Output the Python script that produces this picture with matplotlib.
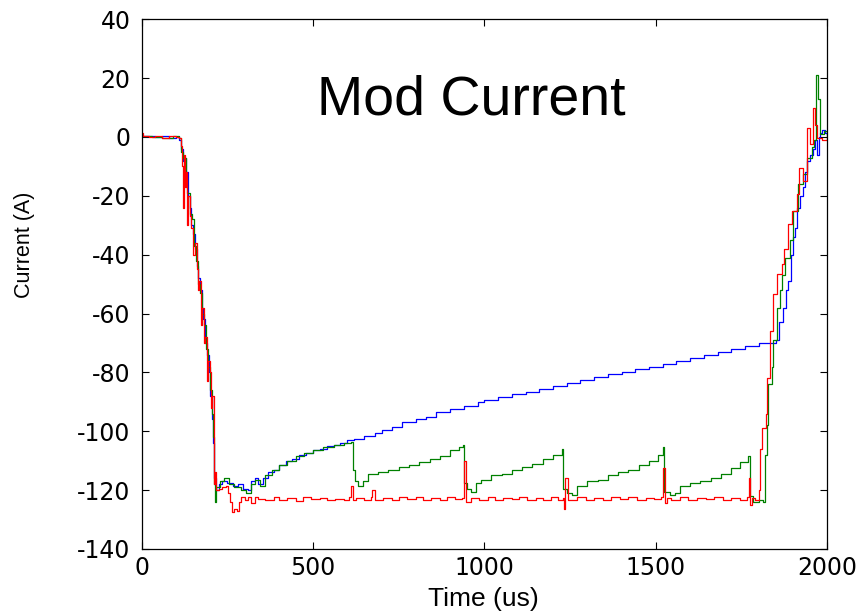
import numpy as np
import matplotlib
matplotlib.use("Agg")
import matplotlib.pyplot as plt

# (time in us, current in A)
blue_trace = [
    (0, 0.5), (20, 0.2), (40, 0.0), (60, 0.3), (80, -0.2), (100, 0.0), (110, -1.0),
    (115, -4), (120, -8), (125, -7), (130, -12), (135, -20), (140, -24), (145, -30),
    (150, -33), (155, -38), (160, -44), (165, -48), (170, -52), (175, -58), (180, -62),
    (185, -70), (190, -74), (195, -80), (200, -88), (205, -96), (208, -104), (212, -116),
    (218, -120), (225, -118), (235, -117), (250, -117.5), (265, -118.5), (280, -118),
    (295, -119.5), (310, -120), (320, -117), (330, -116), (340, -118), (355, -116),
    (370, -114), (385, -113), (400, -111.5), (420, -110), (440, -109.5), (460, -108),
    (480, -107.5), (500, -106.5), (520, -106), (540, -105), (560, -104.5), (580, -104),
    (600, -103), (620, -102.5), (650, -101.5), (680, -100.5), (700, -99.5), (730, -98.5),
    (760, -97), (800, -96), (830, -95), (860, -93.5), (900, -92.5), (940, -91.5),
    (980, -90), (1000, -89.5), (1040, -88.5), (1080, -87.5), (1120, -86.5), (1160, -85.5),
    (1200, -84.5), (1240, -83.5), (1280, -82.5), (1320, -81.5), (1360, -80.5),
    (1400, -80), (1440, -79), (1480, -78), (1520, -77), (1560, -76), (1600, -75),
    (1640, -74), (1680, -73), (1720, -72), (1760, -71), (1800, -70), (1850, -69),
    (1860, -63), (1870, -58), (1880, -52), (1885, -49), (1893, -40), (1900, -34),
    (1905, -31), (1912, -24), (1920, -20), (1928, -17), (1935, -12), (1942, -8),
    (1950, -6), (1958, -4), (1965, -1), (1970, -6), (1975, 0), (1980, 1.5),
    (1985, 2.5), (1992, 1.5), (2000, 1.0),
]

green_trace = [
    (0, 0.3), (30, 0.0), (60, -0.2), (90, 0.2), (108, -0.5), (115, -5), (122, -7),
    (128, -14), (133, -19), (140, -26), (146, -28), (152, -37), (158, -42), (164, -50),
    (170, -53), (176, -60), (182, -64), (188, -72), (194, -78), (200, -86), (204, -94),
    (208, -102), (211, -118), (214, -124), (218, -119), (228, -117), (240, -116),
    (255, -118), (270, -119), (290, -120), (305, -121), (318, -118), (330, -116.5),
    (345, -118.5), (360, -115), (380, -113), (400, -111.5), (425, -110), (450, -108.5),
    (475, -107.5), (500, -106.5), (530, -105.5), (560, -104.5), (590, -104),
    (612, -103.5), (616, -113), (622, -117), (632, -118.5), (645, -117), (660, -114.5),
    (690, -114), (720, -113), (750, -112), (780, -111.5), (810, -110.5), (840, -109.5),
    (870, -108.5), (900, -106.5), (925, -105.5), (936, -104.5), (940, -117.5),
    (950, -119.5), (962, -120.5), (975, -117.5), (990, -116.5), (1020, -115),
    (1050, -114.5), (1080, -113), (1110, -112), (1140, -111), (1170, -109.5),
    (1200, -108), (1225, -106), (1230, -119.5), (1240, -121), (1255, -121.5),
    (1270, -118.5), (1300, -117), (1330, -116.5), (1360, -115), (1390, -114),
    (1420, -113), (1450, -111.5), (1480, -110), (1505, -108), (1520, -105.5),
    (1525, -120.5), (1540, -121.5), (1555, -121), (1570, -118.5), (1600, -117.5),
    (1630, -117), (1660, -116), (1690, -114.5), (1720, -112.5), (1745, -110.5),
    (1770, -108.5), (1776, -122), (1782, -124), (1800, -123.5), (1812, -124),
    (1818, -108), (1824, -98), (1828, -84), (1838, -78), (1842, -69), (1852, -58),
    (1862, -52), (1868, -47), (1878, -41), (1890, -35), (1900, -25), (1914, -16),
    (1928, -12.5), (1942, -7), (1955, -3.5), (1962, -1), (1968, 21), (1974, 13),
    (1980, 1), (1990, 2), (2000, 0.5),
]

red_trace = [
    (0, 1.5), (5, 0.5), (20, 0.0), (40, 0.3), (60, -0.2), (80, 0.4), (100, 0.1),
    (110, -0.5), (115, -3), (118, -10), (120, -24), (123, -6), (126, -17), (130, -12),
    (133, -30), (136, -20), (140, -27), (145, -31), (150, -40), (155, -36), (160, -45),
    (163, -52), (167, -49), (172, -64), (176, -58), (182, -70), (186, -68), (190, -83),
    (194, -76), (198, -80), (203, -92), (206, -88), (210, -118), (214, -114),
    (218, -120), (225, -119.5), (235, -119), (245, -118.5), (252, -121), (259, -124),
    (264, -127.5), (270, -126.5), (277, -127), (283, -124), (290, -122.5), (300, -123.5),
    (310, -122.5), (320, -124.5), (330, -122.5), (340, -123), (360, -123.5),
    (385, -122.5), (400, -123.2), (425, -122.8), (450, -123.6), (470, -122.4),
    (495, -123.1), (520, -122.6), (540, -123.4), (565, -122.9), (590, -123.3),
    (605, -122.5), (612, -118.5), (616, -123.5), (625, -122.7), (650, -123.2),
    (668, -122.4), (672, -120), (680, -123.3), (705, -122.6), (730, -123.4),
    (750, -122.5), (775, -123.0), (800, -122.4), (820, -123.5), (845, -122.8),
    (870, -123.2), (890, -122.5), (915, -123.1), (935, -122.7), (940, -110),
    (945, -124), (960, -122.6), (985, -123.3), (1010, -122.5), (1030, -123.4),
    (1055, -122.7), (1080, -123.0), (1100, -122.3), (1125, -123.4), (1150, -122.6),
    (1170, -123.2), (1195, -122.5), (1215, -123.3), (1228, -122.6), (1232, -126.5),
    (1236, -116), (1245, -123.5), (1270, -122.4), (1295, -123.2), (1320, -122.6),
    (1345, -123.4), (1370, -122.5), (1395, -123.1), (1420, -122.4), (1445, -123.3),
    (1470, -122.7), (1495, -123.0), (1515, -122.5), (1522, -112.5), (1526, -124.5),
    (1532, -122.6), (1545, -123.2), (1570, -122.5), (1595, -123.4), (1620, -122.6),
    (1645, -123.0), (1670, -122.4), (1695, -123.3), (1720, -122.6), (1745, -123.2),
    (1765, -122.5), (1772, -116), (1776, -125), (1780, -122.8), (1790, -123.2),
    (1800, -120), (1804, -106), (1810, -99), (1822, -94), (1825, -82), (1834, -66),
    (1842, -53.5), (1854, -46.5), (1868, -43), (1874, -38), (1886, -29.5), (1898, -25),
    (1912, -19.5), (1918, -10.5), (1930, -15), (1941, 3), (1950, -2.5), (1959, 10),
    (1965, 4), (1971, -0.5), (1985, -1), (2000, -0.5),
]

x_ticks = [0, 500, 1000, 1500, 2000]
y_ticks = [-140, -120, -100, -80, -60, -40, -20, 0, 20, 40]

fig = plt.figure(figsize=(8.68, 6.14), dpi=100)
ax = fig.add_axes([0.1632, 0.1059, 0.7899, 0.8627])

for trace, color in [(blue_trace, "#0000ff"), (green_trace, "#008000"), (red_trace, "#ff0000")]:
    t, cur = np.array(trace).T
    ax.plot(t, cur, color=color, linewidth=0.9, drawstyle="steps-post")

ax.set_xlim(0, 2000)
ax.set_ylim(-140, 40)
ax.set_xticks(x_ticks)
ax.set_yticks(y_ticks)
ax.set_xticklabels([str(v) for v in x_ticks])
ax.set_yticklabels([str(v) for v in y_ticks])
ax.tick_params(direction="in", length=5, width=0.8, top=True, right=True,
               labelsize=17)
ax.tick_params(axis="x", pad=5)
ax.tick_params(axis="y", pad=8)
for lab in ax.get_xticklabels() + ax.get_yticklabels():
    lab.set_family("DejaVu Sans")
for sp in ax.spines.values():
    sp.set_linewidth(0.9)

ax.text(963, 12.5, "Mod Current", ha="center", va="center", fontsize=40,
        family="Liberation Sans")

ax.set_xlabel("Time (us)", fontsize=19, family="Liberation Sans")
ax.xaxis.set_label_coords(0.498, -0.072)
ax.set_ylabel("Current (A)", fontsize=15.5, family="Liberation Sans")
ax.yaxis.set_label_coords(-0.155, 0.575)

fig.savefig("out.png", dpi=100)
